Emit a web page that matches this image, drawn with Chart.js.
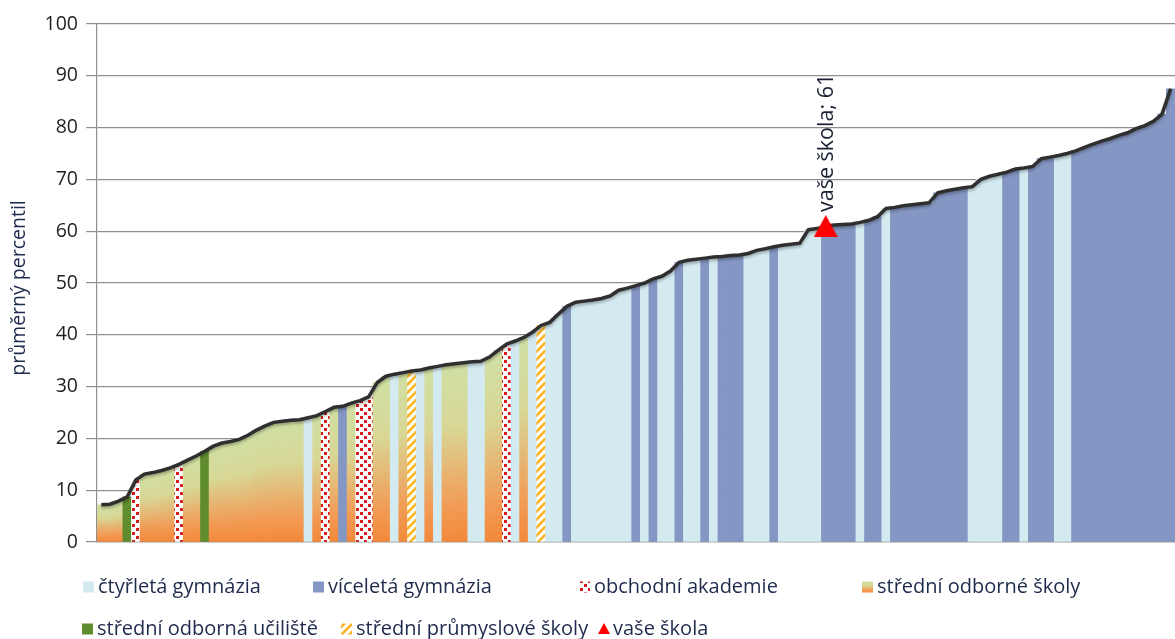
<!DOCTYPE html>
<html>
<head>
<meta charset="utf-8">
<script src="https://cdn.jsdelivr.net/npm/chart.js@4/dist/chart.umd.min.js"></script>
<style>
  html, body { margin: 0; background: #fff; }
  #wrap { width: 1175px; height: 639px; }
</style>
</head>
<body>
<div id="wrap"><canvas id="graf" width="1175" height="639"></canvas></div>
<script>
// průměrný percentil jednotlivých škol, seřazeno vzestupně
const hodnoty = [
  7.2, 7.3, 7.9, 8.7, 12.0, 13.1, 13.4, 13.8, 14.3, 15.0,
  15.8, 16.6, 17.5, 18.5, 19.1, 19.4, 19.8, 20.6, 21.6, 22.4,
  23.1, 23.3, 23.5, 23.6, 24.0, 24.4, 25.2, 26.0, 26.2, 26.8,
  27.3, 28.0, 30.8, 32.0, 32.4, 32.7, 33.0, 33.2, 33.6, 33.9,
  34.2, 34.4, 34.6, 34.8, 34.9, 35.7, 37.0, 38.2, 38.8, 39.5,
  40.5, 41.8, 42.4, 44.0, 45.5, 46.3, 46.5, 46.7, 47.0, 47.5,
  48.6, 49.0, 49.5, 50.0, 50.8, 51.3, 52.3, 54.0, 54.4, 54.6,
  54.8, 55.0, 55.1, 55.3, 55.4, 55.7, 56.3, 56.6, 57.0, 57.3,
  57.5, 57.7, 60.3, 60.5, 61.0, 61.2, 61.3, 61.4, 61.7, 62.1,
  62.8, 64.4, 64.6, 64.9, 65.1, 65.3, 65.5, 67.4, 67.8, 68.1,
  68.4, 68.6, 70.0, 70.6, 71.0, 71.4, 72.0, 72.2, 72.5, 74.0,
  74.3, 74.6, 75.0, 75.5, 76.2, 76.8, 77.4, 77.9, 78.5, 79.0,
  79.8, 80.4, 81.2, 82.6, 87.5
]

// typ školy: C čtyřletá, V víceletá, O obchodní akademie, S SOŠ, U SOU, P průmyslová
const typy = [
  'S','S','S','U','O','S','S','S','S','O',
  'S','S','U','S','S','S','S','S','S','S',
  'S','S','S','S','C','S','O','S','V','S',
  'O','O','S','S','C','S','P','C','S','C',
  'S','S','S','C','C','S','S','O','C','S',
  'C','P','C','C','V','C','C','C','C','C',
  'C','C','V','C','V','C','C','V','C','C',
  'V','C','V','V','V','C','C','C','V','C',
  'C','C','C','C','V','V','V','V','C','V',
  'V','C','V','V','V','V','V','V','V','V',
  'V','C','C','C','C','V','V','C','V','V',
  'V','C','C','V','V','V','V','V','V','V',
  'V','V','V','V','V'
]

const nazvyTypu = {
  C: 'čtyřletá gymnázia',
  V: 'víceletá gymnázia',
  O: 'obchodní akademie',
  S: 'střední odborné školy',
  U: 'střední odborná učiliště',
  P: 'střední průmyslové školy',
  T: 'vaše škola'
}

const vaseSkolaIndex = 84
const vaseSkolaHodnota = 61
const yTicks = [0, 10, 20, 30, 40, 50, 60, 70, 80, 90, 100]

const canvas = document.getElementById('graf')
const c2d = canvas.getContext('2d')

function vzorObchodni() {
  const c = document.createElement('canvas')
  c.width = 8; c.height = 8
  const g = c.getContext('2d')
  g.fillStyle = '#ffffff'; g.fillRect(0, 0, 8, 8)
  g.fillStyle = '#d81c1c'
  g.fillRect(0, 0, 3, 3); g.fillRect(4, 4, 3, 3)
  return c2d.createPattern(c, 'repeat')
}

function vzorPrumyslova() {
  const c = document.createElement('canvas')
  c.width = 8; c.height = 8
  const g = c.getContext('2d')
  g.fillStyle = '#fffdf2'; g.fillRect(0, 0, 8, 8)
  g.strokeStyle = '#f7b321'; g.lineWidth = 2.6
  g.beginPath()
  g.moveTo(-2, 10); g.lineTo(10, -2)
  g.moveTo(-6, 6); g.lineTo(6, -6)
  g.moveTo(2, 14); g.lineTo(14, 2)
  g.stroke()
  return c2d.createPattern(c, 'repeat')
}

const vzorO = vzorObchodni()
const vzorP = vzorPrumyslova()

function prechodOdborne(top, bottom) {
  const gr = c2d.createLinearGradient(0, top, 0, bottom)
  gr.addColorStop(0, '#cfe0a3')
  gr.addColorStop(0.35, '#d8d796')
  gr.addColorStop(0.8, '#f29b55')
  gr.addColorStop(1, '#f3883a')
  return gr
}

const barvy = { C: '#d3eaf0', V: '#8496c3', U: '#5f8c2c' }

function barvaSloupce(ctx) {
  const t = typy[ctx.dataIndex]
  if (t === 'O') return vzorO
  if (t === 'P') return vzorP
  if (t === 'S') {
    const ys = ctx.chart.scales.y
    if (!ys || !ctx.chart.chartArea) return '#dccf90'
    return prechodOdborne(ys.getPixelForValue(hodnoty[ctx.dataIndex]), ys.getPixelForValue(0))
  }
  return barvy[t]
}

// červený trojúhelník pro značku "vaše škola"
const trojuhelnik = (() => {
  const c = document.createElement('canvas')
  c.width = 24; c.height = 22
  const g = c.getContext('2d')
  g.fillStyle = '#ff0000'
  g.beginPath(); g.moveTo(12, 0); g.lineTo(24, 22); g.lineTo(0, 22); g.closePath(); g.fill()
  return c
})()

const popisky = {
  id: 'popisky',
  beforeDatasetDraw(chart, args) {
    if (args.index !== 1) return
    const ctx = chart.ctx
    ctx.save()
    ctx.shadowColor = 'rgba(0,0,0,0.3)'
    ctx.shadowBlur = 3
    ctx.shadowOffsetY = 2
  },
  afterDatasetDraw(chart, args) {
    if (args.index === 1) chart.ctx.restore()
  },
  afterDatasetsDraw(chart) {
    const { ctx } = chart
    const bod = chart.getDatasetMeta(2).data[vaseSkolaIndex]
    ctx.save()
    ctx.translate(bod.x + 1, bod.y - 14)
    ctx.rotate(-Math.PI / 2)
    ctx.font = "21.5px 'Open Sans', sans-serif"
    ctx.fillStyle = '#1b2033'
    ctx.textAlign = 'left'
    ctx.textBaseline = 'middle'
    ctx.fillText(nazvyTypu.T + '; ' + vaseSkolaHodnota, 0, 0)
    ctx.restore()
  },
  afterDraw(chart) {
    const { ctx } = chart
    ctx.save()
    // titulek osy y
    ctx.translate(19, 288)
    ctx.rotate(-Math.PI / 2)
    ctx.font = "19.5px 'Open Sans', sans-serif"
    ctx.fillStyle = '#1f2b4d'
    ctx.textAlign = 'center'
    ctx.textBaseline = 'middle'
    ctx.fillText('průměrný percentil', 0, 0)
    ctx.restore()

    // legenda
    const polozky = [
      ['C', 83, 587], ['V', 313, 587], ['O', 579, 587], ['S', 862, 587],
      ['U', 82, 629], ['P', 341, 629], ['T', 598, 629]
    ]
    ctx.save()
    ctx.font = "20px 'Open Sans', sans-serif"
    ctx.textBaseline = 'middle'
    polozky.forEach(([t, x, y]) => {
      const s = 11
      if (t === 'T') {
        ctx.fillStyle = '#ff0000'
        ctx.beginPath(); ctx.moveTo(x + 6, y - 6); ctx.lineTo(x + 12, y + 5); ctx.lineTo(x, y + 5); ctx.closePath(); ctx.fill()
      } else {
        if (t === 'O') ctx.fillStyle = vzorO
        else if (t === 'P') ctx.fillStyle = vzorP
        else if (t === 'S') ctx.fillStyle = prechodOdborne(y - s / 2, y + s / 2)
        else ctx.fillStyle = barvy[t]
        ctx.fillRect(x, y - s / 2, s, s)
      }
      ctx.fillStyle = '#1f2b4d'
      ctx.fillText(nazvyTypu[t], x + 15, y)
    })
    ctx.restore()
  }
}

Chart.defaults.font.family = "'Open Sans', sans-serif"

new Chart(canvas, {
  type: 'bar',
  data: {
    labels: hodnoty.map((_, i) => String(i + 1)),
    datasets: [
      {
        type: 'bar',
        data: hodnoty,
        backgroundColor: barvaSloupce,
        borderWidth: 0,
        barPercentage: 1,
        categoryPercentage: 1,
        order: 3
      },
      {
        type: 'line',
        data: hodnoty,
        borderColor: '#2f2f2f',
        borderWidth: 3.5,
        pointRadius: 0,
        tension: 0,
        fill: false,
        order: 2
      },
      {
        type: 'line',
        data: hodnoty.map((_, i) => i === vaseSkolaIndex ? vaseSkolaHodnota : null),
        showLine: false,
        pointStyle: trojuhelnik,
        pointRadius: 12,
        order: 1
      }
    ]
  },
  options: {
    responsive: false,
    animation: false,
    layout: { autoPadding: false, padding: { top: 24, bottom: 97, left: 0, right: 0 } },
    plugins: { legend: { display: false }, tooltip: { enabled: false } },
    scales: {
      x: {
        grid: { display: false },
        ticks: { display: false },
        border: { color: '#8f8f8f', width: 1.2 },
        afterFit: s => { s.height = 0 }
      },
      y: {
        min: 0,
        max: 100,
        afterBuildTicks: s => { s.ticks = yTicks.map(v => ({ value: v })) },
        afterFit: s => { s.width = 97 },
        ticks: { color: '#1f1f1f', font: { size: 19.5 }, padding: 8 },
        grid: { color: '#8f8f8f', lineWidth: 1.2, tickLength: 11 },
        border: { color: '#8f8f8f', width: 1.2 }
      }
    }
  },
  plugins: [popisky]
})
</script>
</body>
</html>
